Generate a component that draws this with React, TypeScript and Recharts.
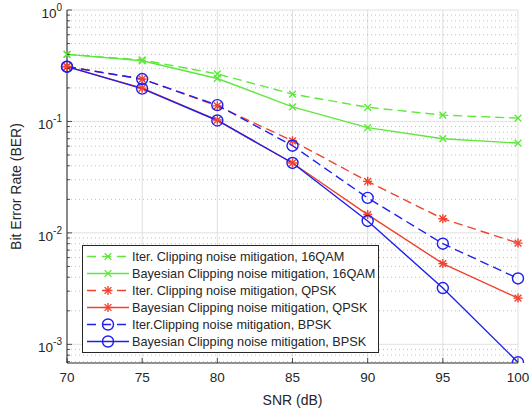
import { LineChart, Line, XAxis, YAxis, Legend, ReferenceLine } from 'recharts'

const snr = [70, 75, 80, 85, 90, 95, 100]
const iter16qam = [0.4, 0.356, 0.267, 0.176, 0.134, 0.114, 0.107]
const bayes16qam = [0.4, 0.35, 0.243, 0.135, 0.088, 0.07, 0.064]
const iterQpsk = [0.311, 0.24, 0.138, 0.067, 0.029, 0.0134, 0.0081]
const bayesQpsk = [0.31, 0.199, 0.103, 0.0424, 0.0146, 0.0053, 0.0026]
const iterBpsk = [0.31, 0.24, 0.14, 0.0606, 0.0206, 0.008, 0.0039]
const bayesBpsk = [0.31, 0.197, 0.102, 0.0424, 0.0128, 0.0032, 0.00069]

const xTicks = [70, 75, 80, 85, 90, 95, 100]
const yMajor = [0.001, 0.01, 0.1, 1]
const yMin = 0.00068

const GREEN = '#5ee83c'
const RED = '#f0432e'
const BLUE = '#1f1fee'
const AXIS = '#262626'
const FONT = '"Liberation Sans", Arial, sans-serif'

const data = snr.map((s, i) => ({
  snr: s,
  iter16qam: iter16qam[i],
  bayes16qam: bayes16qam[i],
  iterQpsk: iterQpsk[i],
  bayesQpsk: bayesQpsk[i],
  iterBpsk: iterBpsk[i],
  bayesBpsk: bayesBpsk[i],
}))

// minor log ticks 2..9 x 10^k inside the domain
const yMinor: number[] = []
for (let e = -4; e < 0; e++) {
  for (let m = 2; m <= 9; m++) {
    const v = m * Math.pow(10, e)
    if (v >= yMin && v < 1) yMinor.push(v)
  }
}
const yAll = [...yMajor, ...yMinor].sort((a, b) => a - b)
const isMajor = (v: number) => Math.abs(Math.log10(v) - Math.round(Math.log10(v))) < 1e-6

type Shape = 'x' | 'star' | 'o'

function Marker({ cx, cy, shape, color }: { cx: number; cy: number; shape: Shape; color: string }) {
  const r = 4.5
  if (shape === 'o') return <circle cx={cx} cy={cy} r={5.5} fill="none" stroke={color} strokeWidth={1.4} />
  const d = r * 0.75
  const lines = [
    [cx - d, cy - d, cx + d, cy + d],
    [cx - d, cy + d, cx + d, cy - d],
  ]
  if (shape === 'star') {
    lines.push([cx - r, cy, cx + r, cy], [cx, cy - r, cx, cy + r])
  }
  return (
    <g>
      {lines.map((l, i) => (
        <line key={i} x1={l[0]} y1={l[1]} x2={l[2]} y2={l[3]} stroke={color} strokeWidth={1.4} />
      ))}
    </g>
  )
}

const makeDot = (shape: Shape, color: string) => (props: any) => (
  <Marker key={props.key ?? props.index} cx={props.cx} cy={props.cy} shape={shape} color={color} />
)

const series = [
  { key: 'iter16qam', name: 'Iter. Clipping noise mitigation, 16QAM', color: GREEN, dash: true, shape: 'x' as Shape },
  { key: 'bayes16qam', name: 'Bayesian Clipping noise mitigation, 16QAM', color: GREEN, dash: false, shape: 'x' as Shape },
  { key: 'iterQpsk', name: 'Iter. Clipping noise mitigation, QPSK', color: RED, dash: true, shape: 'star' as Shape },
  { key: 'bayesQpsk', name: 'Bayesian Clipping noise mitigation, QPSK', color: RED, dash: false, shape: 'star' as Shape },
  { key: 'iterBpsk', name: 'Iter.Clipping noise mitigation, BPSK', color: BLUE, dash: true, shape: 'o' as Shape },
  { key: 'bayesBpsk', name: 'Bayesian Clipping noise mitigation, BPSK', color: BLUE, dash: false, shape: 'o' as Shape },
]

function LegendBox() {
  const rowH = 17
  return (
    <div
      style={{
        background: '#fff',
        border: `1px solid ${AXIS}`,
        padding: '2px 3px 2px 2px',
        fontFamily: FONT,
        fontSize: 12.7,
        color: AXIS,
        display: 'inline-block',
      }}
    >
      {series.map((s) => (
        <div key={s.key} style={{ display: 'flex', alignItems: 'center', height: rowH, whiteSpace: 'nowrap' }}>
          <svg width={46} height={rowH} style={{ flex: 'none' }}>
            <line
              x1={2}
              x2={44}
              y1={rowH / 2}
              y2={rowH / 2}
              stroke={s.color}
              strokeWidth={1.4}
              strokeDasharray={s.dash ? '9 6' : undefined}
            />
            <Marker cx={23} cy={rowH / 2} shape={s.shape} color={s.color} />
          </svg>
          <span style={{ marginLeft: 1 }}>{s.name}</span>
        </div>
      ))}
    </div>
  )
}

function XTickBottom({ x, y, payload }: any) {
  return (
    <g>
      <line x1={x} x2={x} y1={y} y2={y - 5} stroke={AXIS} strokeWidth={0.8} />
      <text x={x} y={y + 19} textAnchor="middle" fontSize={13.5} fill={AXIS} fontFamily={FONT}>
        {payload.value}
      </text>
    </g>
  )
}

function XTickTop({ x, y }: any) {
  return <line x1={x} x2={x} y1={y} y2={y + 5} stroke={AXIS} strokeWidth={0.8} />
}

function YTickLeft({ x, y, payload }: any) {
  const v = payload.value as number
  if (!isMajor(v)) return <line x1={x} x2={x + 3} y1={y} y2={y} stroke={AXIS} strokeWidth={0.8} />
  const exp = Math.round(Math.log10(v))
  return (
    <g>
      <line x1={x} x2={x + 5} y1={y} y2={y} stroke={AXIS} strokeWidth={0.8} />
      <text x={x - 5} y={y + 8} textAnchor="end" fontSize={13.5} fill={AXIS} fontFamily={FONT}>
        10
        <tspan dy={-7} fontSize={10}>
          {exp}
        </tspan>
      </text>
    </g>
  )
}

function YTickRight({ x, y, payload }: any) {
  const len = isMajor(payload.value) ? 5 : 3
  return <line x1={x} x2={x - len} y1={y} y2={y} stroke={AXIS} strokeWidth={0.8} />
}

export default function App() {
  return (
    <div style={{ position: 'absolute', left: 0, top: 0, background: '#fff' }}>
      <LineChart width={532} height={411} data={data} margin={{ top: 10, right: 14, bottom: 0, left: 0 }}>
        {xTicks.map((t) => (
          <ReferenceLine key={'vx' + t} x={t} stroke="#dcdcdc" strokeWidth={0.9} />
        ))}
        {yMinor.map((v) => (
          <ReferenceLine key={'hm' + v} y={v} stroke="#b8b8b8" strokeWidth={0.9} strokeDasharray="1 3" />
        ))}
        {yMajor.map((v) => (
          <ReferenceLine key={'hM' + v} y={v} stroke="#dcdcdc" strokeWidth={0.9} />
        ))}
        <XAxis
          dataKey="snr"
          type="number"
          domain={[70, 100]}
          ticks={xTicks}
          height={48}
          tickSize={0}
          tickMargin={0}
          tickLine={false}
          stroke={AXIS}
          tick={<XTickBottom />}
          label={{ value: 'SNR (dB)', position: 'insideBottom', offset: 6, fontSize: 14, fill: AXIS, fontFamily: FONT }}
        />
        <XAxis
          xAxisId="top"
          dataKey="snr"
          type="number"
          orientation="top"
          domain={[70, 100]}
          ticks={xTicks}
          height={0}
          tickSize={0}
          tickMargin={0}
          tickLine={false}
          stroke={AXIS}
          tick={<XTickTop />}
        />
        <YAxis
          scale="log"
          domain={[yMin, 1]}
          allowDataOverflow
          ticks={yAll}
          interval={0}
          width={67}
          tickSize={0}
          tickMargin={0}
          tickLine={false}
          stroke={AXIS}
          tick={<YTickLeft />}
          label={{
            value: 'Bit Error Rate (BER)',
            angle: -90,
            position: 'insideLeft',
            offset: 16,
            style: { textAnchor: 'middle' },
            fontSize: 14,
            fill: AXIS,
            fontFamily: FONT,
          }}
        />
        <YAxis
          yAxisId="right"
          orientation="right"
          scale="log"
          domain={[yMin, 1]}
          allowDataOverflow
          ticks={yAll}
          interval={0}
          width={0}
          tickSize={0}
          tickMargin={0}
          tickLine={false}
          stroke={AXIS}
          tick={<YTickRight />}
        />
        <Legend
          layout="horizontal"
          verticalAlign="middle"
          align="center"
          content={<LegendBox />}
          wrapperStyle={{ position: 'absolute', left: 82, top: 245, width: 'auto', height: 'auto' }}
        />
        {series.map((s) => (
          <Line
            key={s.key}
            dataKey={s.key}
            name={s.name}
            stroke={s.color}
            strokeWidth={1.4}
            strokeDasharray={s.dash ? '9 5' : undefined}
            dot={makeDot(s.shape, s.color)}
            activeDot={false}
            isAnimationActive={false}
          />
        ))}
      </LineChart>
    </div>
  )
}
